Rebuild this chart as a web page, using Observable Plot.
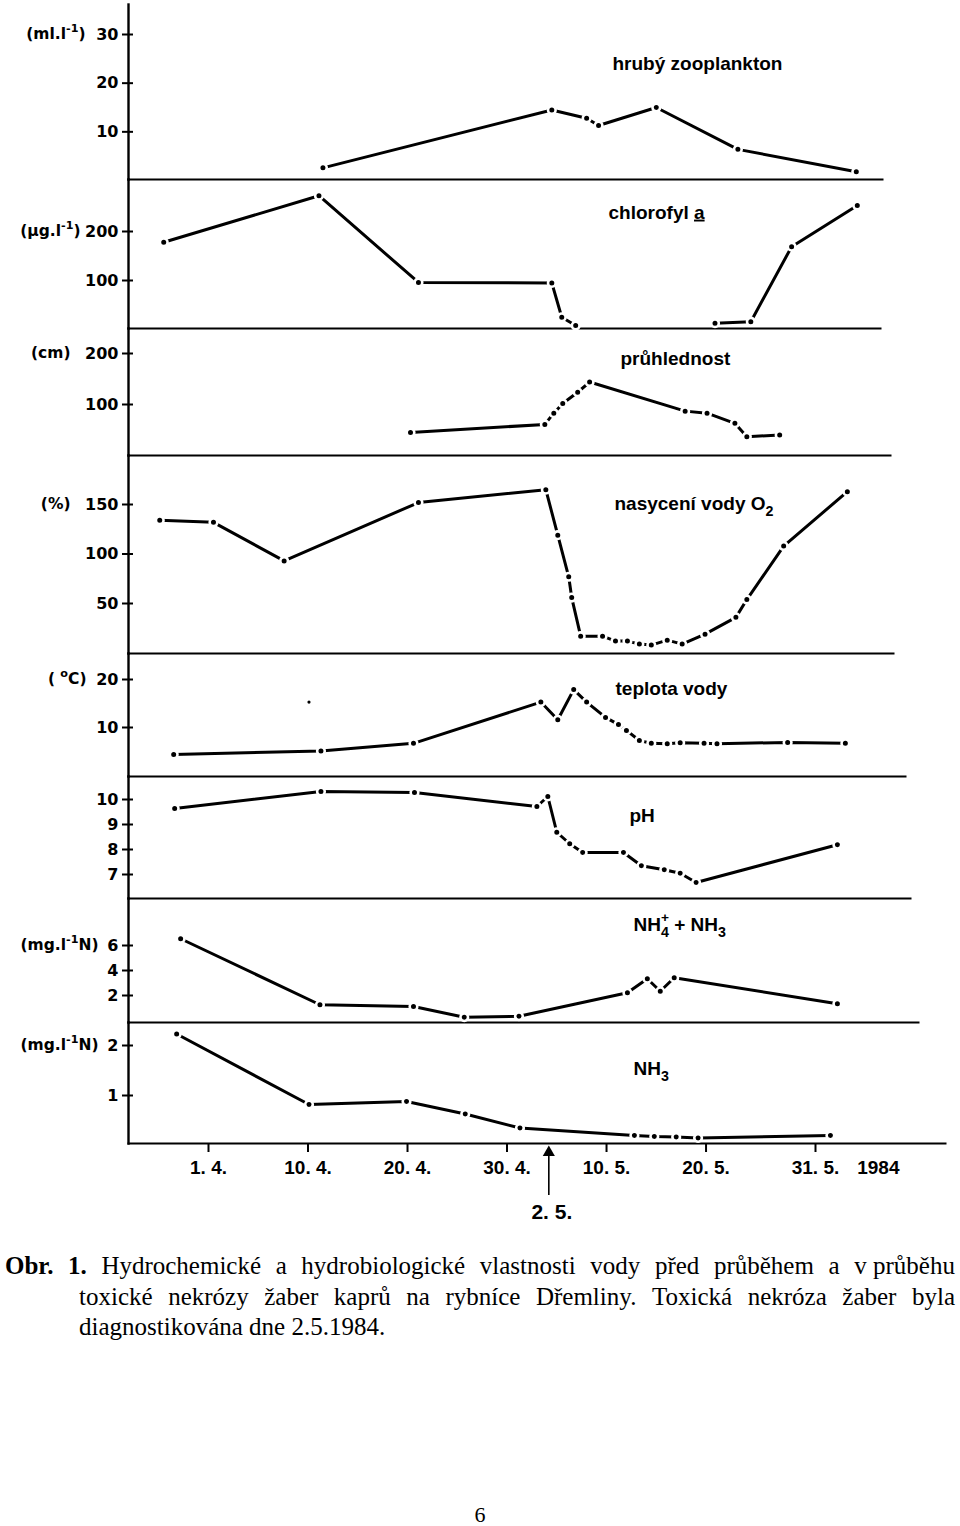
<!DOCTYPE html>
<html>
<head>
<meta charset="utf-8">
<script src="https://cdn.jsdelivr.net/npm/d3@7"></script>
<script src="https://cdn.jsdelivr.net/npm/@observablehq/plot@0.6"></script>
<style>
  html, body { margin: 0; padding: 0; background: #fff; }
  #page { position: relative; width: 960px; height: 1526px; overflow: hidden; background: #fff; }
  #page svg { position: absolute; left: 0; overflow: visible; background: none; }
  .capline { position: absolute; display: flex; justify-content: space-between; white-space: nowrap;
    font-family: "Liberation Serif", "Times New Roman", serif; font-size: 25px; line-height: 30px; color: #000; }
  .capline b { font-weight: bold; }
  .pagenum { position: absolute; left: 0; width: 960px; text-align: center; top: 1506px; line-height: 18px;
    font-family: "Liberation Serif", "Times New Roman", serif; font-size: 22px; }
</style>
</head>
<body>
<div id="page">
  <div class="capline" style="left:5px; width:950px; top:1251px;">
    <b>Obr.</b><b>1.</b><span>Hydrochemické</span><span>a</span><span>hydrobiologické</span><span>vlastnosti</span><span>vody</span><span>před</span><span>průběhem</span><span>a</span><span>v průběhu</span>
  </div>
  <div class="capline" style="left:79px; width:876px; top:1282px;">
    <span>toxické</span><span>nekrózy</span><span>žaber</span><span>kaprů</span><span>na</span><span>rybníce</span><span>Dřemliny.</span><span>Toxická</span><span>nekróza</span><span>žaber</span><span>byla</span>
  </div>
  <div class="capline" style="left:79px; top:1312px; display:block;">diagnostikována dne 2.5.1984.</div>
  <div class="pagenum">6</div>
</div>
<script>
// ---------- x axis (day units: "1. 4." = 0 … "31. 5." = 61) ----------
const xTickDays   = [0, 10, 20, 30, 40, 50, 61];
const xTickLabels = ["1. 4.", "10. 4.", "20. 4.", "30. 4.", "10. 5.", "20. 5.", "31. 5."];
const yearLabel   = "1984";
const diagnosisDay   = 34.2;
const diagnosisLabel = "2. 5.";

// ---------- hrubý zooplankton (ml.l-1) ----------
const zooDay = [11.5, 34.5, 38.0, 39.2, 45.0, 53.2, 65.1];
const zooVal = [2.6, 14.5, 12.8, 11.3, 15.0, 6.4, 1.8];

// ---------- chlorofyl a (µg.l-1) ----------
const chlDay = [-4.5, 11.1, 21.1, 34.5, 35.5, 36.9, 50.9, 54.5, 58.6, 65.2];
const chlVal = [178, 273, 96, 95, 25, 8, 13, 16, 169, 253];
const chlRun = [1, 1, 1, 1, 1, 1, 2, 2, 2, 2];

// ---------- průhlednost (cm) ----------
const secDay = [20.3, 33.8, 34.7, 35.6, 37.1, 38.3, 47.9, 50.1, 52.9, 54.1, 57.4];
const secVal = [45, 61, 83, 102, 124, 144, 87, 83, 63, 37, 40];

// ---------- nasycení vody O2 (%) ----------
const oxyDay = [-4.9, 0.5, 7.6, 21.1, 33.9, 35.1, 36.2, 36.5, 37.4, 39.6, 40.9, 42.1, 43.3, 44.5, 46.1, 47.6, 49.9, 53.0, 54.1, 57.8, 64.2];
const oxyVal = [134, 132, 93, 152, 165, 119, 77, 56, 17, 17, 12, 12, 9, 8, 13, 9, 19, 36, 54, 108, 163];

// ---------- teplota vody (°C) ----------
const tempDay = [-3.5, 11.3, 20.6, 33.4, 35.1, 36.7, 38.0, 39.9, 41.2, 42.0, 43.3, 44.5, 46.1, 47.4, 49.8, 51.1, 58.2, 64.0];
const tempVal = [4.4, 5.1, 6.7, 15.3, 11.6, 17.9, 15.3, 12.1, 10.6, 9.4, 7.3, 6.7, 6.6, 6.8, 6.7, 6.6, 6.9, 6.7];
const tempLoneDay = [10.1];
const tempLoneVal = [15.3];

// ---------- pH ----------
const phDay = [-3.4, 11.3, 20.7, 33.0, 34.1, 35.0, 36.3, 37.6, 41.7, 43.5, 45.8, 47.4, 49.0, 63.2];
const phVal = [9.64, 10.32, 10.28, 9.72, 10.12, 8.69, 8.23, 7.88, 7.88, 7.35, 7.19, 7.05, 6.68, 8.19];

// ---------- NH4+ + NH3 (mg.l-1 N) ----------
const ammDay = [-2.8, 11.2, 20.6, 25.7, 31.2, 42.1, 44.1, 45.4, 46.8, 63.2];
const ammVal = [6.54, 1.26, 1.12, 0.26, 0.34, 2.22, 3.34, 2.34, 3.42, 1.34];

// ---------- NH3 (mg.l-1 N) ----------
const nh3Day = [-3.2, 10.1, 19.9, 25.8, 31.3, 42.8, 44.8, 47.0, 49.2, 62.5];
const nh3Val = [2.23, 0.82, 0.88, 0.63, 0.35, 0.20, 0.18, 0.17, 0.15, 0.20];

// ---------- drawing ----------
const ML = 128;
const tickFont = "'DejaVu Sans', 'Liberation Sans', sans-serif";
const titleFont = "'Liberation Sans', Arial, sans-serif";
const xFont = "'Liberation Sans', Arial, sans-serif";

// turns markup (_x sub, ^x / ^{..} sup, ~x underline) into tspans
function richify(svg) {
  const NS = "http://www.w3.org/2000/svg";
  svg.querySelectorAll("text").forEach(el => {
    const s = el.textContent;
    if (!/[_^~]/.test(s)) return;
    while (el.firstChild) el.removeChild(el.firstChild);
    let shift = 0, prevSub = false, buf = "";
    const push = (str, attrs) => {
      const t = document.createElementNS(NS, "tspan");
      t.textContent = str;
      for (const [k, v] of Object.entries(attrs)) t.setAttribute(k, v);
      el.appendChild(t);
    };
    const flush = () => { if (buf) { push(buf, {dy: -shift}); shift = 0; buf = ""; prevSub = false; } };
    const grab = i => {
      if (s[i] === "{") { const j = s.indexOf("}", i); return [s.slice(i + 1, j), j]; }
      return [s[i], i];
    };
    for (let i = 0; i < s.length; i++) {
      const c = s[i];
      if (c === "_") { flush(); const [g, j] = grab(i + 1); i = j; push(g, {dy: 6 - shift, "font-size": "75%"}); shift = 6; prevSub = true; }
      else if (c === "^") { flush(); const [g, j] = grab(i + 1); i = j;
        const a = {dy: -7 - shift, "font-size": "72%"}; if (prevSub) { a.dx = -8; a.dy = -9 - shift; }
        push(g, a); shift = prevSub ? -9 : -7; prevSub = false; }
      else if (c === "~") { flush(); push(s[++i], {style: "text-decoration: underline"}); }
      else buf += c;
    }
    flush();
  });
}

function panel(o) {
  const mt = o.marginTop || 0;
  const mb = o.marginBottom || 0;
  const rows = o.days.map((d, i) => ({day: d, value: o.values[i], run: o.runs ? o.runs[i] : 0}));
  const marks = [
    Plot.frame({anchor: "left", strokeWidth: 2.4}),
    Plot.frame({anchor: "bottom", strokeWidth: 2}),
    Plot.axisY(o.ticks, {anchor: "left", tickSize: 11, dx: 5, fill: "none", strokeWidth: 2, label: null}),
    Plot.axisY(o.ticks, {anchor: "left", tickSize: 5, tickPadding: 5, stroke: "none", label: null,
      tickFormat: d => String(d), fontFamily: tickFont, fontWeight: "bold", fontSize: 16}),
    Plot.line(rows, {x: "day", y: "value", z: "run", stroke: "black", strokeWidth: 3}),
    Plot.dot(rows, {x: "day", y: "value", r: 3.8, fill: "black", stroke: "white", strokeWidth: 2.6}),
    Plot.text([o.title], {text: d => d, frameAnchor: "top-left", dx: o.titleX - ML, dy: o.titleY - o.top - mt,
      lineAnchor: "middle", textAnchor: "start", fontSize: 19, fontWeight: "bold", fontFamily: titleFont})
  ];
  if (o.unit) marks.push(Plot.text([o.unit], {text: d => d, y: o.ticks[o.ticks.length - 1], frameAnchor: "left",
    lineAnchor: "middle", textAnchor: "end", dx: o.unitRight - ML, fontFamily: tickFont, fontWeight: "bold", fontSize: 15.5}));
  if (o.extra) marks.push(...o.extra);
  const svg = Plot.plot({
    width: o.width, height: o.height, marginLeft: ML, marginRight: 0, marginTop: mt, marginBottom: mb,
    x: {domain: [0, 61], range: [208, 815], axis: null},
    y: {domain: o.yDomain, range: o.yRange, axis: null},
    style: {position: "absolute", left: "0px", top: o.top + "px", overflow: "visible", background: "none", color: "black"},
    marks
  });
  richify(svg);
  document.getElementById("page").appendChild(svg);
}

panel({top: 0, height: 179, width: 882, marginTop: 4, yDomain: [0, 30], yRange: [180, 34], ticks: [10, 20, 30],
  days: zooDay, values: zooVal, unit: "(ml.l^{-1})", unitRight: 85, title: "hrubý zooplankton", titleX: 612, titleY: 63});

panel({top: 179, height: 149, width: 880, yDomain: [0, 200], yRange: [150, 52], ticks: [100, 200],
  days: chlDay, values: chlVal, runs: chlRun, unit: "(µg.l^{-1})", unitRight: 80, title: "chlorofyl ~a", titleX: 608, titleY: 212});

panel({top: 328, height: 127, width: 890, yDomain: [0, 200], yRange: [127, 25], ticks: [100, 200],
  days: secDay, values: secVal, unit: "(cm)", unitRight: 70, title: "průhlednost", titleX: 620, titleY: 358});

panel({top: 455, height: 198, width: 893, yDomain: [0, 150], yRange: [197.5, 49], ticks: [50, 100, 150],
  days: oxyDay, values: oxyVal, unit: "(%)", unitRight: 70, title: "nasycení vody O_2", titleX: 614, titleY: 503});

panel({top: 653, height: 123, width: 905, yDomain: [0, 20], yRange: [122, 26], ticks: [10, 20],
  days: tempDay, values: tempVal, unit: "( ^oC)", unitRight: 86, title: "teplota vody", titleX: 615, titleY: 688,
  extra: [Plot.dot(tempLoneDay.map((d, i) => ({day: d, value: tempLoneVal[i]})), {x: "day", y: "value", r: 1.6, fill: "black"})]});

panel({top: 776, height: 122, width: 910, yDomain: [7, 10], yRange: [98, 23], ticks: [7, 8, 9, 10],
  days: phDay, values: phVal, title: "pH", titleX: 629, titleY: 815});

panel({top: 898, height: 124, width: 918, yDomain: [0, 6], yRange: [122, 47], ticks: [2, 4, 6],
  days: ammDay, values: ammVal, unit: "(mg.l^{-1}N)", unitRight: 98, title: "NH_4^+ + NH_3", titleX: 633, titleY: 924});

panel({top: 1022, height: 221, marginBottom: 100, width: 945, yDomain: [0, 2], yRange: [123, 23], ticks: [1, 2],
  days: nh3Day, values: nh3Val, unit: "(mg.l^{-1}N)", unitRight: 98, title: "NH_3", titleX: 633, titleY: 1068,
  extra: [
    Plot.axisX(xTickDays, {anchor: "bottom", tickSize: 9, tickPadding: 8, strokeWidth: 2, label: null,
      tickFormat: d => xTickLabels[xTickDays.indexOf(d)], fontFamily: xFont, fontWeight: "bold", fontSize: 19}),
    Plot.text([yearLabel], {text: d => d, frameAnchor: "bottom-right", dx: -46, dy: 17, lineAnchor: "top", textAnchor: "end",
      fontFamily: xFont, fontWeight: "bold", fontSize: 19}),
    Plot.ruleX([diagnosisDay], {x: d => d, y1: -0.14, y2: -1.0, strokeWidth: 1.6}),
    Plot.dot([diagnosisDay], {x: d => d, y: -0.14, symbol: "triangle", r: 4.5, fill: "black", stroke: "none"}),
    Plot.text([diagnosisLabel], {text: d => d, x: diagnosisDay, y: -1.0, dx: 3, dy: 17, fontFamily: xFont,
      fontWeight: "bold", fontSize: 21})
  ]});
</script>
</body>
</html>
